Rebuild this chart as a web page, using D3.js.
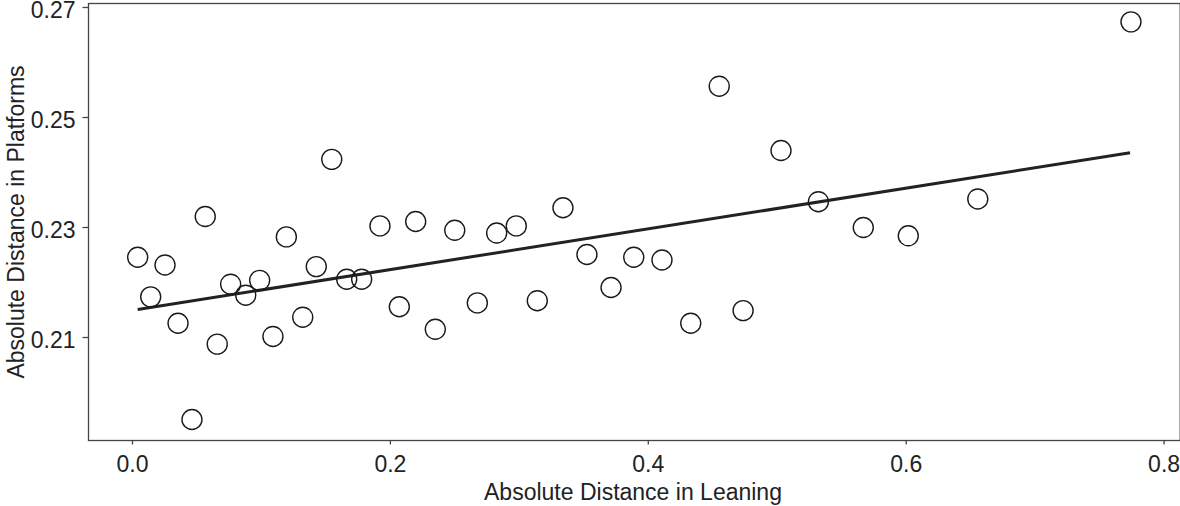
<!DOCTYPE html>
<html>
<head>
<meta charset="utf-8">
<script src="https://cdn.jsdelivr.net/npm/d3@7"></script>
<style>
  html, body { margin: 0; padding: 0; background: #fff; }
  svg { display: block; }
  text { font-family: "Liberation Sans", Arial, sans-serif; fill: #222; }
</style>
</head>
<body>
<svg id="chart" width="1180" height="506"></svg>
<script>
// Absolute distance in leaning (x) vs absolute distance in platforms (y)
const leaning = [
  0.0044, 0.0145, 0.0256, 0.0357, 0.0465, 0.0568, 0.0661, 0.0765, 0.0882, 0.0990,
  0.1093, 0.1197, 0.1324, 0.1429, 0.1549, 0.1665, 0.1781, 0.1923, 0.2073, 0.2200,
  0.2352, 0.2503, 0.2678, 0.2828, 0.2980, 0.3143, 0.3342, 0.3528, 0.3715, 0.3891,
  0.4110, 0.4333, 0.4554, 0.4739, 0.5033, 0.5323, 0.5671, 0.6020, 0.6559, 0.7747
];
const platforms = [
  0.2245, 0.2173, 0.2231, 0.2125, 0.1950, 0.2319, 0.2087, 0.2196, 0.2176, 0.2203,
  0.2101, 0.2282, 0.2136, 0.2228, 0.2423, 0.2205, 0.2205, 0.2302, 0.2155, 0.2310,
  0.2114, 0.2294, 0.2162, 0.2289, 0.2302, 0.2166, 0.2335, 0.2250, 0.2190, 0.2245,
  0.2240, 0.2125, 0.2556, 0.2148, 0.2439, 0.2346, 0.2299, 0.2284, 0.2351, 0.2673
];

// Fitted linear trend, drawn between its two end points
const fitX = [0.0044, 0.7740];
const fitY = [0.2150, 0.2435];

const xTicks = [0.0, 0.2, 0.4, 0.6, 0.8];
const yTicks = [0.21, 0.23, 0.25, 0.27];

const xTitle = "Absolute Distance in Leaning";
const yTitle = "Absolute Distance in Platforms";

const svg = d3.select("#chart");

const x = d3.scaleLinear().domain([0, 0.8]).range([132, 1163.6]);
const y = d3.scaleLinear().domain([0.21, 0.27]).range([337, 7]);

// plot frame (its right edge sits on the page border)
const frame = { left: 88.5, top: 3.5, right: 1180.2, bottom: 440.5 };
svg.append("rect")
  .attr("x", frame.left).attr("y", frame.top)
  .attr("width", frame.right - frame.left)
  .attr("height", frame.bottom - frame.top)
  .attr("fill", "none")
  .attr("stroke", "#444")
  .attr("stroke-width", 1.3);

// x axis
const xAxis = svg.append("g")
  .attr("transform", `translate(0,${frame.bottom})`)
  .call(d3.axisBottom(x).tickValues(xTicks).tickFormat(d3.format(".1f")).tickSize(4).tickPadding(11));
xAxis.select(".domain").remove();
xAxis.selectAll(".tick line").attr("stroke", "#444").attr("stroke-width", 1.3);
xAxis.selectAll(".tick text").attr("font-size", 23).attr("fill", "#222")
  .style("font-family", "'Liberation Sans', Arial, sans-serif");

// y axis
const yAxis = svg.append("g")
  .attr("transform", `translate(${frame.left},0)`)
  .call(d3.axisLeft(y).tickValues(yTicks).tickFormat(d3.format(".2f")).tickSize(6).tickPadding(7));
yAxis.select(".domain").remove();
yAxis.selectAll(".tick line").attr("stroke", "#444").attr("stroke-width", 1.3);
yAxis.selectAll(".tick text").attr("font-size", 23).attr("fill", "#222")
  .attr("dy", "0.45em")
  .style("font-family", "'Liberation Sans', Arial, sans-serif");

// axis titles
svg.append("text")
  .attr("x", (88.5 + 1179.5) / 2 - 1)
  .attr("y", 500)
  .attr("text-anchor", "middle")
  .attr("font-size", 23)
  .text(xTitle);

svg.append("text")
  .attr("transform", `translate(24,${(frame.top + frame.bottom) / 2}) rotate(-90)`)
  .attr("text-anchor", "middle")
  .attr("font-size", 23)
  .text(yTitle);

// trend line
const fitPts = fitX.map((v, i) => [v, fitY[i]]);
svg.append("path")
  .datum(fitPts)
  .attr("fill", "none")
  .attr("stroke", "#222")
  .attr("stroke-width", 3)
  .attr("d", d3.line().x(d => x(d[0])).y(d => y(d[1])));

// points
const pts = leaning.map((v, i) => ({ x: v, y: platforms[i] }));
svg.append("g")
  .selectAll("circle")
  .data(pts)
  .join("circle")
  .attr("cx", d => x(d.x))
  .attr("cy", d => y(d.y))
  .attr("r", 10)
  .attr("fill", "none")
  .attr("stroke", "#1a1a1a")
  .attr("stroke-width", 1.4);
</script>
</body>
</html>
